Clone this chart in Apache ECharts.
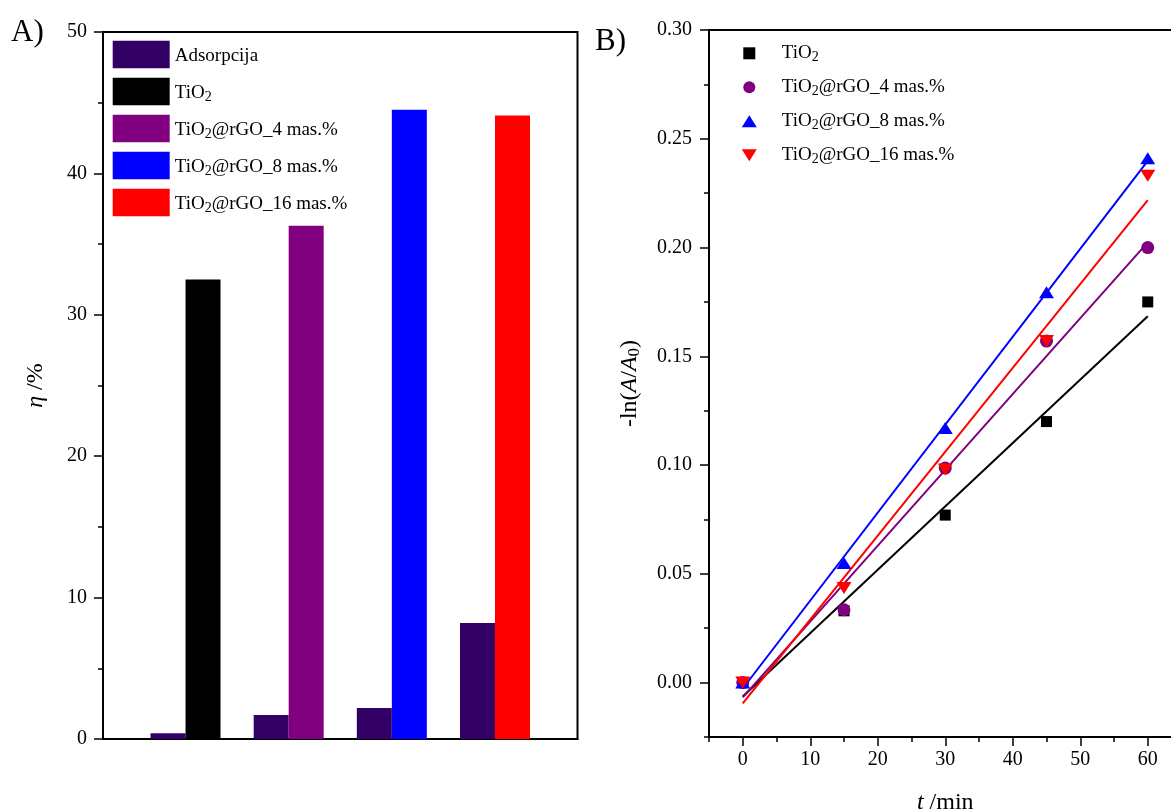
<!DOCTYPE html>
<html><head><meta charset="utf-8">
<script src="https://cdn.jsdelivr.net/npm/echarts@6/dist/echarts.min.js"></script>
<style>html,body{margin:0;padding:0;background:#fff}#c{width:1171px;height:809px}</style>
</head><body><div id="c"></div>
<script>
// ---------- Panel A data ----------
const groupPos = [1, 2, 3, 4];
const adsorpcija = [0.4, 1.7, 2.2, 8.2];
const photoNames = ['TiO2', 'TiO2@rGO_4 mas.%', 'TiO2@rGO_8 mas.%', 'TiO2@rGO_16 mas.%'];
const photoValues = [32.5, 36.3, 44.5, 44.1];
const etaTicks = [0, 10, 20, 30, 40, 50];

// ---------- Panel B data ----------
const tMin = [0, 15, 30, 45, 60];
const kTiO2 = [0, 0.033, 0.077, 0.120, 0.175];
const kRGO4 = [0, 0.0335, 0.0986, 0.157, 0.200];
const kRGO8 = [0, 0.055, 0.117, 0.1795, 0.241];
const kRGO16 = [0, 0.0435, 0.098, 0.157, 0.233];
// fitted straight lines, read at t = 0 and t = 60
const fitT = [0, 60];
const fitTiO2 = [-0.0064, 0.1684];
const fitRGO4 = [-0.0068, 0.2024];
const fitRGO8 = [-0.0027, 0.2398];
const fitRGO16 = [-0.0095, 0.2218];
const tMajorTicks = [0, 10, 20, 30, 40, 50, 60];
const tMinorTicks = [-5, 5, 15, 25, 35, 45, 55, 65];
const kMajorTicks = [0, 0.05, 0.10, 0.15, 0.20, 0.25, 0.30];
const kMinorTicks = [-0.025, 0.025, 0.075, 0.125, 0.175, 0.225, 0.275];

const FONT = 'Liberation Serif';
const colAds = '#330066';
const photoColors = ['#000000', '#800080', '#0000ff', '#ff0000'];
const triUp = 'path://M5,0L10,8L0,8Z';
const triDown = 'path://M0,0L10,0L5,8Z';
const sq = 'path://M0,0L10,0L10,10L0,10Z';

const rich = {
  sub: { fontSize: 14, fontFamily: FONT, color: '#000', verticalAlign: 'bottom', lineHeight: 8 },
  i: { fontSize: 19, fontFamily: FONT, fontStyle: 'italic', color: '#000' }
};
const legendFmt = n => n.replace('TiO2', 'TiO{sub|2}');

const axisLine = { show: true, onZero: false, lineStyle: { color: '#000', width: 2 } };
const noLine = { show: false, onZero: false };
const tickStyle = { color: '#000', width: 1.5 };
const labelStyle = { color: '#000', fontSize: 20, fontFamily: FONT };

const series = [];
series.push({
  type: 'bar', name: 'Adsorpcija', xAxisIndex: 0, yAxisIndex: 0,
  data: groupPos.map((x, i) => [x, adsorpcija[i]]),
  barWidth: 35, barGap: '0%', itemStyle: { color: colAds }
});
photoNames.forEach((n, k) => {
  series.push({
    type: 'bar', name: n, stack: 'photo', xAxisIndex: 0, yAxisIndex: 0,
    data: groupPos.map((x, i) => [x, i === k ? photoValues[k] : '-']),
    barWidth: 35, barGap: '0%', itemStyle: { color: photoColors[k] }
  });
});

const kSets = [kTiO2, kRGO4, kRGO8, kRGO16];
const fitSets = [fitTiO2, fitRGO4, fitRGO8, fitRGO16];
const symbols = [['rect', 11], ['circle', 13], [triUp, [15, 12]], [triDown, [15, 12]]];
fitSets.forEach((f, k) => {
  series.push({
    type: 'line', name: 'fit' + k, xAxisIndex: 1, yAxisIndex: 1,
    data: fitT.map((t, i) => [t, f[i]]), showSymbol: false, silent: true,
    lineStyle: { color: photoColors[k], width: 2 }, itemStyle: { color: photoColors[k] }, z: 2
  });
});
kSets.forEach((d, k) => {
  series.push({
    type: 'scatter', name: photoNames[k], xAxisIndex: 1, yAxisIndex: 1,
    data: tMin.map((t, i) => [t, d[i]]),
    symbol: symbols[k][0], symbolSize: symbols[k][1],
    itemStyle: { color: photoColors[k], opacity: 1 }, z: 3
  });
});

const option = {
  animation: false,
  backgroundColor: '#fff',
  textStyle: { fontFamily: FONT },
  grid: [
    { left: 103, top: 32, width: 474.5, height: 707, show: true, borderColor: '#000', borderWidth: 2,
      backgroundColor: 'transparent', containLabel: false, outerBoundsMode: 'none' },
    { left: 709, top: 30, width: 472.5, height: 707, show: true, borderColor: '#000', borderWidth: 2,
      backgroundColor: 'transparent', containLabel: false, outerBoundsMode: 'none' }
  ],
  xAxis: [
    { type: 'value', gridIndex: 0, position: 'bottom', min: 0.2, max: 4.8, axisLine: axisLine,
      axisTick: { show: false }, axisLabel: { show: false }, splitLine: { show: false } },
    { type: 'value', gridIndex: 1, position: 'bottom', min: -5, max: 65, axisLine: axisLine,
      axisTick: { show: true, length: 9, lineStyle: tickStyle, customValues: tMajorTicks },
      axisLabel: Object.assign({ margin: 13, customValues: tMajorTicks }, labelStyle),
      splitLine: { show: false },
      name: '{i|t} /min', nameLocation: 'middle', nameGap: 54,
      nameTextStyle: { fontSize: 24, fontFamily: FONT, color: '#000',
        rich: { i: { fontSize: 24, fontFamily: FONT, fontStyle: 'italic', color: '#000' } } } },
    { type: 'value', gridIndex: 1, position: 'bottom', offset: 0, min: -5, max: 65, axisLine: noLine,
      axisTick: { show: true, length: 5, lineStyle: tickStyle, customValues: tMinorTicks },
      axisLabel: { show: false }, splitLine: { show: false } }
  ],
  yAxis: [
    { type: 'value', gridIndex: 0, position: 'left', min: 0, max: 50, interval: 10, axisLine: axisLine,
      axisTick: { show: true, length: 9, lineStyle: tickStyle },
      minorTick: { show: true, splitNumber: 2, length: 5, lineStyle: tickStyle },
      axisLabel: Object.assign({ margin: 16 }, labelStyle),
      splitLine: { show: false }, minorSplitLine: { show: false },
      name: '{i|η} /%', nameLocation: 'middle', nameRotate: 90, nameGap: 55,
      nameTextStyle: { fontSize: 24, fontFamily: FONT, color: '#000',
        rich: { i: { fontSize: 24, fontFamily: FONT, fontStyle: 'italic', color: '#000' } } } },
    { type: 'value', gridIndex: 1, position: 'left', min: -0.025, max: 0.30, axisLine: axisLine,
      axisTick: { show: true, length: 9, lineStyle: tickStyle, customValues: kMajorTicks },
      axisLabel: Object.assign({ margin: 17, customValues: kMajorTicks, formatter: v => v.toFixed(2) }, labelStyle),
      splitLine: { show: false },
      name: '-ln({i|A}/{i|A}{sub|0})', nameLocation: 'middle', nameRotate: 90, nameGap: 66,
      nameTextStyle: { fontSize: 24, fontFamily: FONT, color: '#000', lineHeight: 26,
        rich: { i: { fontSize: 24, fontFamily: FONT, fontStyle: 'italic', color: '#000', lineHeight: 26 },
                sub: { fontSize: 17, fontFamily: FONT, color: '#000', verticalAlign: 'bottom', lineHeight: 10 } } } },
    { type: 'value', gridIndex: 1, position: 'left', offset: 0, min: -0.025, max: 0.30, axisLine: noLine,
      axisTick: { show: true, length: 5, lineStyle: tickStyle, customValues: kMinorTicks },
      axisLabel: { show: false }, splitLine: { show: false } }
  ],
  legend: [
    { orient: 'vertical', left: 112.7, top: 40.7, padding: 0, itemWidth: 57, itemHeight: 27.5, itemGap: 9.5,
      icon: 'rect', data: ['Adsorpcija'].concat(photoNames),
      formatter: legendFmt,
      textStyle: { fontSize: 19, fontFamily: FONT, color: '#000', lineHeight: 22, padding: [4, 0, 0, 0], rich: rich } },
    { orient: 'vertical', left: 741.8, top: 42.3, padding: 0, itemWidth: 15, itemHeight: 12, itemGap: 12,
      data: [{ name: photoNames[0], icon: sq }, { name: photoNames[1], icon: 'circle' },
             { name: photoNames[2], icon: triUp }, { name: photoNames[3], icon: triDown }],
      formatter: legendFmt,
      textStyle: { fontSize: 19, fontFamily: FONT, color: '#000', lineHeight: 22, padding: [0, 0, 0, 20], rich: rich } }
  ],
  graphic: [
    { type: 'text', left: 11, top: 17, style: { text: 'A)', font: '31px "Liberation Serif"', fill: '#000' } },
    { type: 'text', left: 595, top: 26, style: { text: 'B)', font: '31px "Liberation Serif"', fill: '#000' } }
  ],
  series: series
};
const chart = echarts.init(document.getElementById('c'), null, { renderer: 'canvas' });
chart.setOption(option);
</script>
</body></html>
